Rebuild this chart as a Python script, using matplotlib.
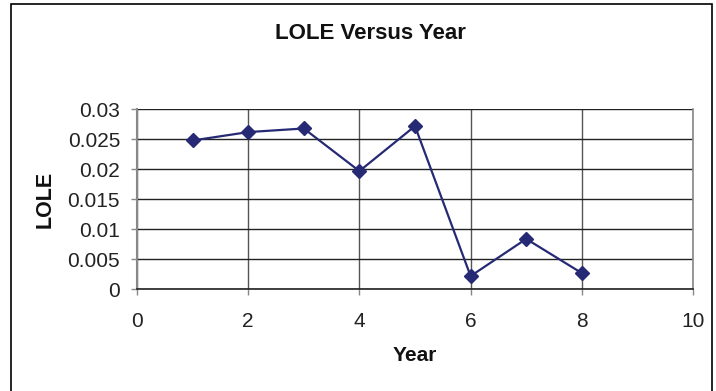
import matplotlib.pyplot as plt
from matplotlib.patches import Rectangle

plt.rcParams['font.family'] = ['Liberation Sans', 'DejaVu Sans']

# LOLE per year
years = [1, 2, 3, 4, 5, 6, 7, 8]
lole = [0.0248, 0.0262, 0.0268, 0.0197, 0.0272, 0.0022, 0.0084, 0.0027]
x_ticks = [0, 2, 4, 6, 8, 10]
y_ticks = [0, 0.005, 0.01, 0.015, 0.02, 0.025, 0.03]
y_labels = ['0', '0.005', '0.01', '0.015', '0.02', '0.025', '0.03']

fig = plt.figure(figsize=(7.16, 3.91), dpi=100)
ax = fig.add_axes([0.1913, 0.2601, 0.7766, 0.4604])

# chart border
fig.patches.append(Rectangle((0.0155, -0.05), 0.979, 1.04, transform=fig.transFigure,
                             fill=False, edgecolor='black', linewidth=1.2))

ax.plot(years, lole, color='#262a75', linewidth=1.6, marker='D', markersize=7.5,
        markerfacecolor='#262a75', markeredgecolor='#262a75', zorder=3)

ax.set_xlim(0, 10)
ax.set_ylim(0, 0.03)
ax.set_xticks(x_ticks)
ax.set_yticks(y_ticks)
ax.set_yticklabels(y_labels)
ax.tick_params(axis='both', labelsize=15, length=4.2, width=1, direction='out',
               colors='#888888', labelcolor='#222222')
ax.tick_params(axis='x', pad=12)
ax.tick_params(axis='y', pad=8)

ax.grid(axis='y', color='#222222', linewidth=1)
ax.grid(axis='x', color='#555555', linewidth=1)
ax.set_axisbelow(True)
ax.spines['top'].set_visible(False)
ax.spines['bottom'].set_color('#222222')
ax.spines['bottom'].set_linewidth(1.2)
ax.spines['left'].set_color('#888888')
ax.spines['left'].set_linewidth(1.5)
ax.spines['right'].set_color('#888888')
ax.spines['right'].set_linewidth(1.2)

fig.text(0.517, 0.9146, 'LOLE Versus Year', ha='center', va='center',
         fontsize=16, fontweight='bold', color='#111111')
fig.text(0.58, 0.092, 'Year', ha='center', va='center',
         fontsize=15, fontweight='bold', color='#111111')
fig.text(0.063, 0.491, 'LOLE', ha='center', va='center', rotation=90,
         fontsize=15.5, fontweight='bold', color='#111111')

fig.savefig('out.png', dpi=100)
